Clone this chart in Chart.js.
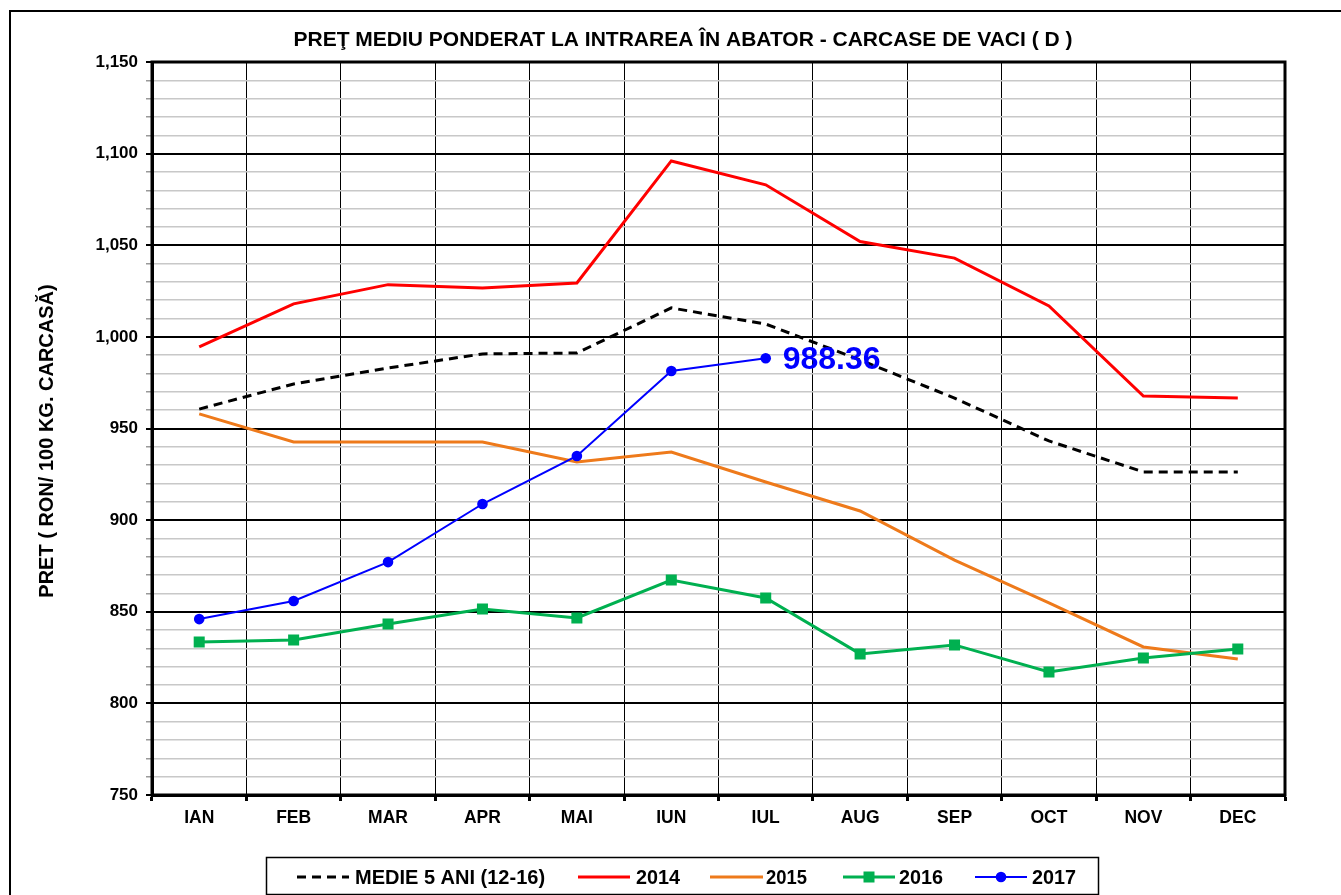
<!DOCTYPE html>
<html lang="ro">
<head>
    <meta charset="UTF-8">
    <title>Pret mediu ponderat - carcase de vaci (D)</title>
    <script src="https://cdn.jsdelivr.net/npm/chart.js"></script>
    <style>
        body { margin: 0; padding: 0; background: #ffffff; }
        #wrap { width: 1341px; height: 895px; position: relative; }
    </style>
</head>
<body>
<div id="wrap"><canvas id="pretChart" width="1341" height="895"></canvas></div>

<script>
    // Luni (categorii)
    const months = ['IAN', 'FEB', 'MAR', 'APR', 'MAI', 'IUN', 'IUL', 'AUG', 'SEP', 'OCT', 'NOV', 'DEC'];

    // Serii (RON / 100 kg carcasa)
    const medie5Ani = [960.6, 974.3, 983, 990.7, 991.2, 1015.8, 1007, 987.4, 966.6, 943.2, 926.3, 926.3];
    const an2014 = [994.5, 1018, 1028.5, 1026.7, 1029.4, 1096, 1083, 1052, 1043, 1016.9, 967.7, 966.6];
    const an2015 = [958, 942.6, 942.6, 942.6, 931.7, 937.2, 920.8, 905, 878.2, 854.8, 830.8, 824.2];
    const an2016 = [833.5, 834.6, 843.3, 851.5, 846.6, 867.3, 857.5, 827, 831.9, 817.1, 824.8, 829.7];
    const an2017 = [846, 855.9, 877.1, 908.8, 935, 981.4, 988.36];

    const yMin = 750, yMax = 1150, yStep = 10, yMajor = 50;

    const FONT = '"Liberation Sans", Arial, sans-serif';

    // extra drawing: frame, title, axis title, legend, last value label
    const decorPlugin = {
        id: 'decor',
        afterDatasetsDraw(chart) {
            const ctx = chart.ctx;
            const meta = chart.getDatasetMeta(4);
            const last = meta.data[meta.data.length - 1];
            ctx.save();
            ctx.fillStyle = '#0000ff';
            ctx.font = 'bold 32px ' + FONT;
            ctx.textBaseline = 'middle';
            ctx.fillText(an2017[an2017.length - 1].toFixed(2), last.x + 17, last.y + 2, 103);
            ctx.restore();
        },
        afterDraw(chart) {
            const ctx = chart.ctx;
            const a = chart.chartArea;
            ctx.save();

            // plot frame
            ctx.strokeStyle = '#000';
            ctx.lineWidth = 3;
            ctx.strokeRect(a.left, a.top, a.right - a.left, a.bottom - a.top);

            // outer chart border
            ctx.lineWidth = 2;
            ctx.strokeRect(10, 11, 1400, 1000);

            // title
            ctx.fillStyle = '#000';
            ctx.font = 'bold 21px ' + FONT;
            ctx.textAlign = 'center';
            ctx.textBaseline = 'middle';
            ctx.fillText('PREŢ MEDIU PONDERAT LA INTRAREA ÎN ABATOR - CARCASE DE VACI ( D )', 683, 40, 793);

            // y axis title
            ctx.save();
            ctx.translate(47, 441);
            ctx.rotate(-Math.PI / 2);
            ctx.font = 'bold 20px ' + FONT;
            ctx.fillText('PRET ( RON/ 100 KG. CARCASĂ)', 0, 0, 318);
            ctx.restore();

            // legend
            ctx.lineWidth = 1.5;
            ctx.strokeRect(266.5, 857.5, 832, 37);
            const ly = 877;
            const items = [
                { i: 0, x1: 297, x2: 349, tx: 355, tw: 193 },
                { i: 1, x1: 578, x2: 630, tx: 636, tw: 44 },
                { i: 2, x1: 710, x2: 763, tx: 766, tw: 41 },
                { i: 3, x1: 843, x2: 895, tx: 899, tw: 44 },
                { i: 4, x1: 975, x2: 1027, tx: 1032, tw: 44 }
            ];
            items.forEach(it => {
                const ds = chart.data.datasets[it.i];
                ctx.strokeStyle = ds.borderColor;
                ctx.lineWidth = ds.borderWidth;
                ctx.setLineDash(ds.borderDash || []);
                ctx.beginPath();
                ctx.moveTo(it.x1, ly);
                ctx.lineTo(it.x2, ly);
                ctx.stroke();
                ctx.setLineDash([]);
                const mx = (it.x1 + it.x2) / 2;
                ctx.fillStyle = ds.borderColor;
                if (ds.pointStyle === 'rect' && ds.pointRadius > 0) {
                    ctx.fillRect(mx - 5.5, ly - 5.5, 11, 11);
                } else if (ds.pointStyle === 'circle' && ds.pointRadius > 0) {
                    ctx.beginPath();
                    ctx.arc(mx, ly, 5.3, 0, Math.PI * 2);
                    ctx.fill();
                }
                ctx.fillStyle = '#000';
                ctx.font = 'bold 20px "Liberation Sans Narrow", ' + FONT;
                ctx.textAlign = 'left';
                ctx.fillText(ds.label, it.tx, ly + 1, it.tw);
            });
            ctx.restore();
        }
    };

    function makeChart() {
        const ctx = document.getElementById('pretChart').getContext('2d');
        new Chart(ctx, {
            type: 'line',
            data: {
                labels: months,
                datasets: [
                    {
                        label: 'MEDIE 5 ANI (12-16)',
                        data: medie5Ani,
                        borderColor: '#000000',
                        backgroundColor: '#000000',
                        borderWidth: 3,
                        borderDash: [9, 6],
                        pointRadius: 0,
                        order: 3
                    },
                    {
                        label: '2014',
                        data: an2014,
                        borderColor: '#ff0000',
                        backgroundColor: '#ff0000',
                        borderWidth: 3,
                        pointRadius: 0,
                        order: 4
                    },
                    {
                        label: '2015',
                        data: an2015,
                        borderColor: '#ee7a1b',
                        backgroundColor: '#ee7a1b',
                        borderWidth: 3,
                        pointRadius: 0,
                        order: 5
                    },
                    {
                        label: '2016',
                        data: an2016,
                        borderColor: '#00b050',
                        backgroundColor: '#00b050',
                        borderWidth: 3,
                        pointStyle: 'rect',
                        pointRadius: 7.8,
                        pointBorderWidth: 0,
                        order: 2
                    },
                    {
                        label: '2017',
                        data: an2017,
                        borderColor: '#0000ff',
                        backgroundColor: '#0000ff',
                        borderWidth: 2,
                        pointStyle: 'circle',
                        pointRadius: 5.3,
                        pointBorderWidth: 0,
                        order: 1
                    }
                ]
            },
            options: {
                responsive: false,
                animation: false,
                layout: { padding: { top: 62, right: 56, left: 0, bottom: 0 } },
                plugins: {
                    legend: { display: false },
                    title: { display: false },
                    tooltip: { enabled: false }
                },
                elements: { line: { tension: 0 } },
                scales: {
                    x: {
                        offset: true,
                        afterFit: s => { s.height = 100; },
                        grid: {
                            offset: true,
                            color: '#000',
                            lineWidth: 1,
                            tickLength: 6,
                            tickWidth: 3
                        },
                        border: { color: '#000', width: 3 },
                        ticks: {
                            color: '#000',
                            padding: 7,
                            font: { family: FONT, size: 17.5, weight: 'bold' }
                        }
                    },
                    y: {
                        min: yMin,
                        max: yMax,
                        afterFit: s => { s.width = 152; },
                        grid: {
                            color: c => (c.tick && c.tick.value % yMajor === 0) ? '#000' : '#c8c8c8',
                            lineWidth: c => (c.tick && c.tick.value % yMajor === 0) ? 2 : 1.5,
                            tickLength: 6,
                            tickColor: c => (c.tick && c.tick.value % yMajor === 0) ? '#000' : '#999'
                        },
                        border: { color: '#000', width: 3 },
                        ticks: {
                            stepSize: yStep,
                            autoSkip: false,
                            color: '#000',
                            padding: 8,
                            font: { family: FONT, size: 17, weight: 'bold' },
                            callback: v => v % yMajor === 0 ? v.toLocaleString('en-US') : ''
                        }
                    }
                }
            },
            plugins: [decorPlugin]
        });
    }

    window.onload = makeChart;
</script>
</body>
</html>
